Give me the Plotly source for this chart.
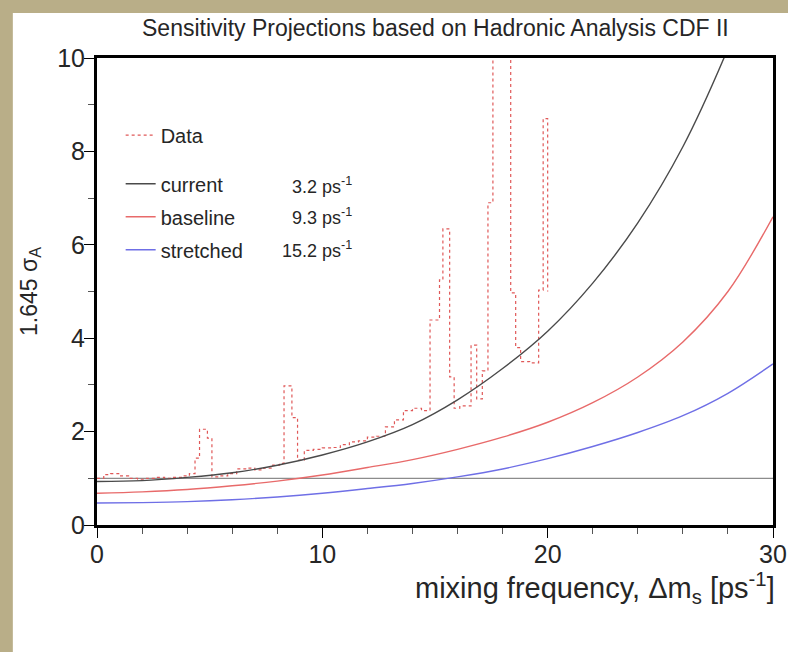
import plotly.graph_objects as go

# ---- data ----
# Data histogram (step, left edges and values)
data_x = [0.0, 0.3, 0.6, 1.0, 1.4, 1.8, 2.2, 2.6, 3.0, 3.4, 3.8, 4.1, 4.35, 4.55, 4.9, 5.1,
          5.4, 5.8, 6.2, 6.6, 7.0, 7.4, 7.8, 8.1, 8.3, 8.65, 8.9, 9.2, 9.6, 10.0, 10.4, 10.8,
          11.2, 11.6, 12.0, 12.4, 12.8, 13.2, 13.6, 14.0, 14.4, 14.78, 15.2, 15.35, 15.65,
          15.85, 16.1, 16.6, 16.85, 17.1, 17.35, 17.57, 18.36, 18.58, 18.8, 19.2, 19.6, 19.8, 20.0]
data_y = [1.0, 1.08, 1.1, 1.05, 1.0, 0.98, 1.0, 1.02, 1.0, 1.02, 1.05, 1.1, 1.43, 2.05, 1.86, 1.03,
          1.05, 1.1, 1.2, 1.22, 1.18, 1.22, 1.28, 1.32, 2.98, 2.3, 1.39, 1.6, 1.62, 1.65, 1.66, 1.72,
          1.78, 1.8, 1.88, 1.9, 2.1, 2.25, 2.45, 2.5, 2.45, 4.39, 5.25, 6.34, 3.17,
          2.5, 2.55, 3.85, 2.7, 3.3, 6.9, 10.5, 4.97, 3.8, 3.5, 3.47, 5.03, 8.7, 5.0]

# projection curves, sampled every 2 ps^-1
curve_x = [0, 2, 4, 6, 8, 10, 12, 14, 16, 18, 20, 22, 24, 26, 28, 30]
current_y = [0.93, 0.95, 1.02, 1.12, 1.28, 1.5, 1.78, 2.15, 2.68, 3.35, 4.15, 5.18, 6.47, 8.1, 10.2, 12.7]
baseline_y = [0.68, 0.71, 0.76, 0.84, 0.94, 1.07, 1.23, 1.4, 1.62, 1.88, 2.2, 2.62, 3.17, 3.92, 5.0, 6.6]
stretched_y = [0.47, 0.48, 0.50, 0.54, 0.60, 0.68, 0.78, 0.89, 1.03, 1.2, 1.42, 1.68, 1.98, 2.34, 2.82, 3.45]
ref_x = [0, 30]
ref_y = [1, 1]

names = ["current", "baseline", "stretched"]
reach = ["3.2 ps<sup>-1</sup>", "9.3 ps<sup>-1</sup>", "15.2 ps<sup>-1</sup>"]
reach_y = [7.28, 6.6, 5.89]

x_ticks = [0, 10, 20, 30]
y_ticks = [0, 2, 4, 6, 8, 10]

FONT = "Liberation Sans, Arial, Helvetica, sans-serif"
TXT = "#262626"

fig = go.Figure()

fig.add_trace(go.Scatter(x=ref_x, y=ref_y, mode="lines",
                         line=dict(color="#8c8c8c", width=1.3), showlegend=False))
fig.add_trace(go.Scatter(x=data_x, y=data_y, mode="lines", name="Data",
                         line=dict(color="#e05858", width=1.2, dash="dot", shape="hv"),
                         legend="legend"))
colors = ["#4a4a4a", "#e86a6a", "#6f6fe6"]
for nm, ys, c in zip(names, [current_y, baseline_y, stretched_y], colors):
    fig.add_trace(go.Scatter(x=curve_x, y=ys, mode="lines", name=nm, legendgroup=nm,
                             line=dict(color=c, width=1.4, shape="spline", smoothing=1.0),
                             legend="legend2"))

axis_common = dict(showline=True, mirror=True, linecolor="black", linewidth=3,
                   ticks="outside", tickcolor="black", tickwidth=1.2, ticklen=10,
                   showgrid=False, zeroline=False, ticklabeloverflow="allow",
                   automargin=False,
                   tickfont=dict(family=FONT, size=25, color=TXT))

fig.update_xaxes(range=[0, 30], tickvals=x_ticks, ticklabelstandoff=-5,
                 minor=dict(dtick=2, ticks="outside", ticklen=6, tickcolor="#555", tickwidth=1),
                 **axis_common)
fig.update_yaxes(range=[0, 10], tickvals=y_ticks, ticklabelstandoff=-6,
                 minor=dict(dtick=1, ticks="outside", ticklen=6, tickcolor="#555", tickwidth=1),
                 title=dict(text="1.645 σ<sub>A</sub>", font=dict(family=FONT, size=23, color=TXT),
                            standoff=14),
                 **axis_common)

annotations = [
    dict(text="Sensitivity Projections based on Hadronic Analysis CDF II", xref="paper", yref="paper",
         x=0.5, y=1.0, yshift=30, xanchor="center", yanchor="middle", showarrow=False,
         font=dict(family=FONT, size=23, color=TXT)),
    dict(text="mixing frequency, Δm<sub>s</sub> [ps<sup>-1</sup>]", xref="paper", yref="paper",
         x=1.0, y=0, xshift=4, yshift=-63, xanchor="right", yanchor="middle", showarrow=False,
         font=dict(family=FONT, size=29, color=TXT)),
]
for txt, yv in zip(reach, reach_y):
    annotations.append(dict(text=txt, xref="x", yref="y", x=11.4, y=yv, xanchor="right",
                            yanchor="middle", showarrow=False,
                            font=dict(family=FONT, size=18, color=TXT)))

fig.update_layout(
    width=788, height=652,
    margin=dict(l=97, r=15, t=58, b=127),
    paper_bgcolor="#b9ae88",
    plot_bgcolor="white",
    font=dict(family=FONT, color=TXT),
    annotations=annotations,
    shapes=[dict(type="rect", xref="paper", yref="paper", layer="below",
                 x0=-0.1245, x1=1.05, y0=-0.3, y1=1.0964,
                 fillcolor="white", line=dict(width=0))],
    legend=dict(x=0.035, y=0.835, xanchor="left", yanchor="middle", bgcolor="rgba(0,0,0,0)",
                font=dict(family=FONT, size=20, color=TXT)),
    legend2=dict(x=0.035, y=0.66, xanchor="left", yanchor="middle", bgcolor="rgba(0,0,0,0)",
                 font=dict(family=FONT, size=20, color=TXT), tracegroupgap=4,
                 itemwidth=30),
)

fig.write_html("out.html", config={"displayModeBar": False},
               post_script="document.body.style.margin='0px';")
